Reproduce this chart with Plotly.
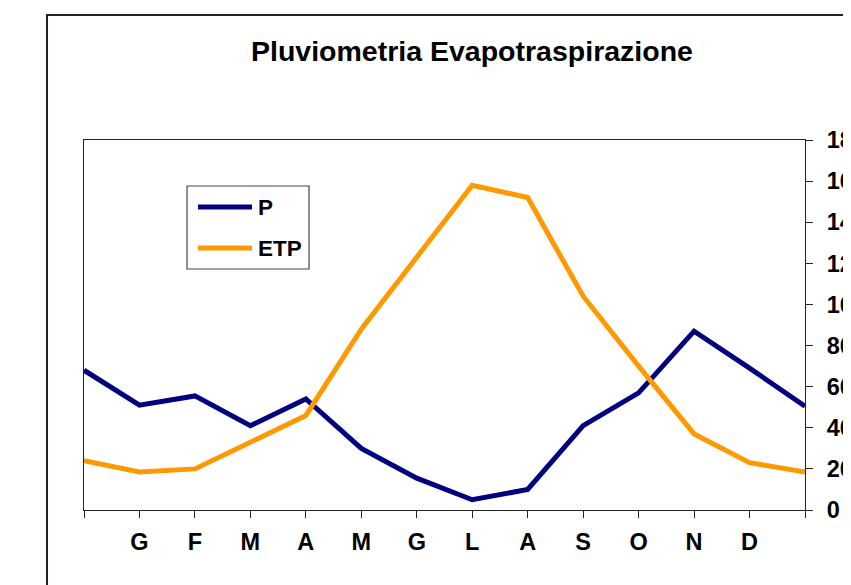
import plotly.graph_objects as go

# ---- data ----
months = ["", "G", "F", "M", "A", "M", "G", "L", "A", "S", "O", "N", "D", ""]
P = [68, 51, 55.5, 41, 54, 30, 15.5, 5, 10, 41, 57, 87, 69, 50.5]
ETP = [24, 18.5, 20, 33, 46, 88, 123, 158, 152, 104, 70, 37, 23, 18.5]
series_names = ["P", "ETP"]
colors = ["#000080", "#FF9900"]
y_ticks = [0, 20, 40, 60, 80, 100, 120, 140, 160, 180]

FONT = "Arial, 'Liberation Sans', sans-serif"
xs = list(range(len(months)))

fig = go.Figure()
for name, vals, col in zip(series_names, [P, ETP], colors):
    fig.add_trace(go.Scatter(x=xs, y=vals, mode="lines", name=name,
                             line=dict(color=col, width=5), showlegend=False,
                             cliponaxis=False))

# custom legend (box + sample lines + labels) in paper coords
shapes = [
    # outer chart border
    dict(type="rect", xref="paper", yref="paper", x0=-0.0513, x1=2, y0=-1, y1=1.3378,
         line=dict(color="#222222", width=2)),
    # legend box
    dict(type="rect", xref="paper", yref="paper", x0=0.1429, x1=0.3121, y0=0.6514, y1=0.8757,
         line=dict(color="#444444", width=1.2), fillcolor="white"),
]
annotations = []
for i, (name, col) in enumerate(zip(series_names, colors)):
    yy = 0.8189 - i * 0.1108
    shapes.append(dict(type="line", xref="paper", yref="paper", x0=0.1581, x1=0.2330,
                       y0=yy, y1=yy, line=dict(color=col, width=5)))
    annotations.append(dict(xref="paper", yref="paper", x=0.2386, y=yy, xanchor="left",
                            yanchor="middle", text="<b>%s</b>" % name, showarrow=False,
                            font=dict(family=FONT, size=22.5, color="black")))

fig.update_layout(
    width=851, height=585,
    margin=dict(l=76, r=54, t=132, b=83, autoexpand=False),
    paper_bgcolor="white", plot_bgcolor="white",
    title=dict(text="<b>Pluviometria Evapotraspirazione</b>", x=0.5452, xanchor="center",
               y=0.9265, yanchor="middle",
               font=dict(family=FONT, size=28.5, color="black")),
    shapes=shapes, annotations=annotations,
    showlegend=False,
    xaxis=dict(range=[0, len(months) - 1], tickmode="array", tickvals=xs,
               ticktext=["<b>%s</b>" % m for m in months],
               ticks="outside", ticklen=7, tickcolor="#222", tickwidth=1,
               ticklabelstandoff=4, automargin=False,
               showline=True, linecolor="#222", linewidth=1.2, mirror=True,
               showgrid=False, zeroline=False,
               tickfont=dict(family=FONT, size=23.5, color="black")),
    yaxis=dict(range=[0, 180], tickmode="array", tickvals=y_ticks,
               ticktext=["<b>%d</b>" % v for v in y_ticks], side="right",
               ticks="outside", ticklen=7, tickcolor="#222", tickwidth=1,
               ticklabelstandoff=9, automargin=False,
               showline=True, linecolor="#222", linewidth=1.2, mirror=True,
               showgrid=False, zeroline=False,
               tickfont=dict(family=FONT, size=23.5, color="black")),
)

fig.write_html("out.html")
